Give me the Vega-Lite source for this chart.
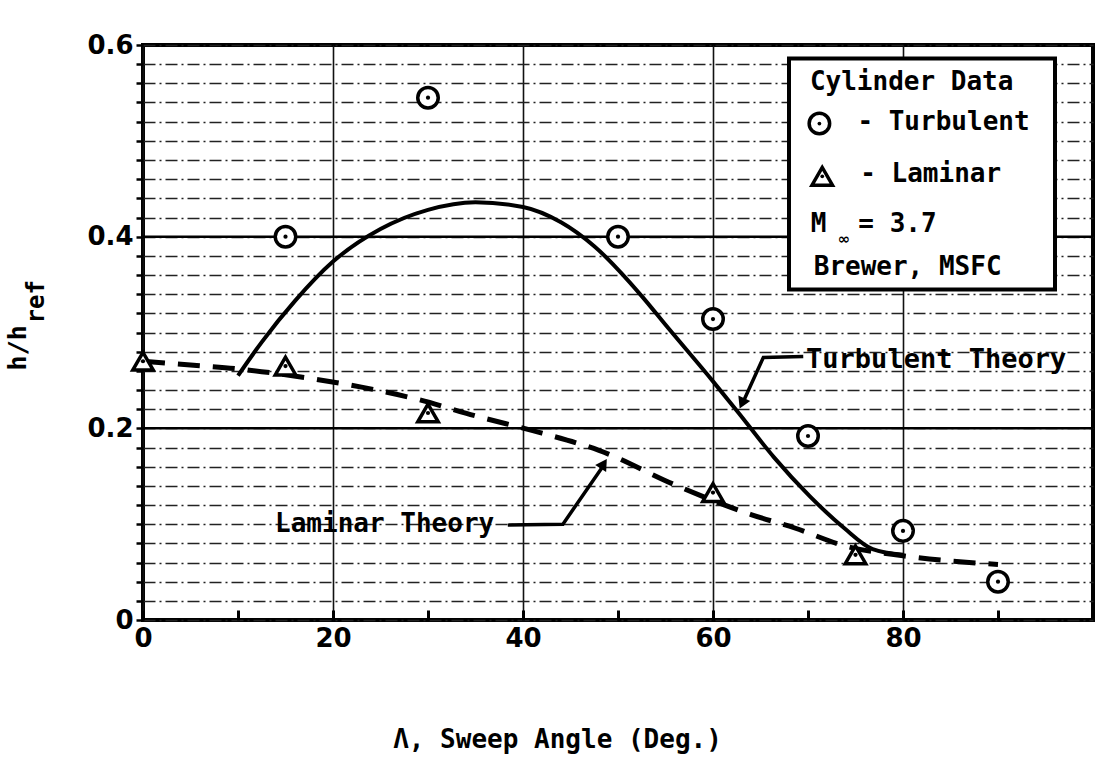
{
  "$schema": "https://vega.github.io/schema/vega-lite/v6.json",
  "width": 950,
  "height": 575,
  "autosize": {"type": "none"},
  "padding": {"left": 143, "top": 45, "right": 6, "bottom": 137},
  "background": "white",
  "config": {
    "view": {"stroke": "black", "strokeWidth": 4},
    "axis": {
      "domain": false,
      "labelFont": "DejaVu Sans",
      "labelFontWeight": "bold",
      "labelFontSize": 26,
      "labelColor": "black",
      "tickColor": "black",
      "labelOverlap": false,
      "titleColor": "black"
    }
  },
  "datasets": {
    "hgrid": [{"h": 0.2}, {"h": 0.4}],
    "box": [{"a": 68, "a2": 96, "h": 0.345, "h2": 0.586}],
    "turbTheory": [
      {"a": 10, "h": 0.255}, {"a": 12.5, "h": 0.29}, {"a": 16, "h": 0.333},
      {"a": 20, "h": 0.374}, {"a": 25, "h": 0.408}, {"a": 30, "h": 0.428},
      {"a": 35, "h": 0.436}, {"a": 40, "h": 0.431}, {"a": 44, "h": 0.415},
      {"a": 47.5, "h": 0.39}, {"a": 52.5, "h": 0.338}, {"a": 55, "h": 0.308},
      {"a": 60, "h": 0.249}, {"a": 62.7, "h": 0.216}, {"a": 66.4, "h": 0.17},
      {"a": 70.2, "h": 0.129}, {"a": 73.8, "h": 0.096}, {"a": 76.8, "h": 0.074},
      {"a": 80, "h": 0.068}
    ],
    "lamTheory": [
      {"a": 0, "h": 0.27}, {"a": 5, "h": 0.266}, {"a": 10, "h": 0.262},
      {"a": 17, "h": 0.253}, {"a": 23, "h": 0.243}, {"a": 29, "h": 0.23},
      {"a": 35, "h": 0.213}, {"a": 42, "h": 0.195}, {"a": 48, "h": 0.177},
      {"a": 56, "h": 0.141}, {"a": 64, "h": 0.11}, {"a": 68.6, "h": 0.096},
      {"a": 74, "h": 0.077}, {"a": 80, "h": 0.067}, {"a": 90, "h": 0.058}
    ],
    "points": [
      {"a": 15, "h": 0.40, "kind": "Turbulent"},
      {"a": 30, "h": 0.545, "kind": "Turbulent"},
      {"a": 50, "h": 0.40, "kind": "Turbulent"},
      {"a": 60, "h": 0.314, "kind": "Turbulent"},
      {"a": 70, "h": 0.192, "kind": "Turbulent"},
      {"a": 80, "h": 0.093, "kind": "Turbulent"},
      {"a": 90, "h": 0.04, "kind": "Turbulent"},
      {"a": 0, "h": 0.27, "kind": "Laminar"},
      {"a": 15, "h": 0.265, "kind": "Laminar"},
      {"a": 30, "h": 0.216, "kind": "Laminar"},
      {"a": 60, "h": 0.133, "kind": "Laminar"},
      {"a": 75, "h": 0.068, "kind": "Laminar"}
    ],
    "legendGlyphs": [
      {"a": 71.2, "h": 0.518, "kind": "Turbulent"},
      {"a": 71.5, "h": 0.463, "kind": "Laminar"}
    ],
    "arrows": [
      {"a": 38.4, "h": 0.099, "id": "lam", "o": 1},
      {"a": 44.2, "h": 0.1, "id": "lam", "o": 2},
      {"a": 48.6, "h": 0.163, "id": "lam", "o": 3},
      {"a": 69.5, "h": 0.275, "id": "turb", "o": 1},
      {"a": 65.3, "h": 0.274, "id": "turb", "o": 2},
      {"a": 63.1, "h": 0.226, "id": "turb", "o": 3}
    ],
    "lamHead": [{"a": 48.5, "h": 0.163}],
    "turbHead": [{"a": 63.05, "h": 0.226}],
    "annotLam": [{"a": 13.9, "h": 0.1, "t": "Laminar Theory"}],
    "annotTurb": [{"a": 69.8, "h": 0.271, "t": "Turbulent Theory"}],
    "legendText": [
      {"a": 70.2, "h": 0.561, "t": "Cylinder Data"},
      {"a": 75.2, "h": 0.52, "t": "- Turbulent"},
      {"a": 75.5, "h": 0.465, "t": "- Laminar"},
      {"a": 70.3, "h": 0.413, "t": "M"},
      {"a": 75.3, "h": 0.413, "t": "= 3.7"},
      {"a": 70.6, "h": 0.368, "t": "Brewer, MSFC"}
    ],
    "infty": [{"a": 73.8, "h": 0.398, "t": "∞"}],
    "ytitle": [{"a": -13.2, "h": 0.284, "t": "h/h"}],
    "ysub": [{"a": -11.2, "h": 0.332, "t": "ref"}]
  },
  "layer": [
    {
      "data": {"name": "hgrid"},
      "mark": {"type": "rule", "stroke": "black", "strokeWidth": 2.5},
      "encoding": {
        "y": {
          "field": "h", "type": "quantitative",
          "scale": {"domain": [0, 0.6], "nice": false, "zero": false},
          "axis": {
            "title": null,
            "values": [0, 0.02, 0.04, 0.06, 0.08, 0.1, 0.12, 0.14, 0.16, 0.18, 0.2, 0.22, 0.24, 0.26, 0.28, 0.3, 0.32, 0.34, 0.36, 0.38, 0.4, 0.42, 0.44, 0.46, 0.48, 0.5, 0.52, 0.54, 0.56, 0.58, 0.6],
            "tickCount": 60,
            "labelExpr": "datum.value == 0 ? '0' : (abs(datum.value*5 - round(datum.value*5)) < 0.001 ? format(datum.value, '.1f') : '')",
            "tickSize": 7,
            "tickWidth": 2.5,
            "labelPadding": 3,
            "grid": true,
            "gridColor": "#222222",
            "gridWidth": 1.3,
            "gridDash": [12, 4, 2, 4]
          }
        },
        "x": {"datum": 0, "type": "quantitative", "scale": {"domain": [0, 100], "nice": false, "zero": false},
          "axis": {
            "title": "Λ, Sweep Angle (Deg.)",
            "titleFont": "DejaVu Sans Mono",
            "titleFontSize": 26,
            "titleFontWeight": "bold",
            "titlePadding": 75,
            "titleX": 414,
            "values": [0, 10, 20, 30, 40, 50, 60, 70, 80, 90],
            "tickCount": 40,
            "labelExpr": "datum.value % 20 == 0 ? datum.label : ''",
            "labelFlush": false,
            "tickSize": -10,
            "tickWidth": 3,
            "labelPadding": 15,
            "grid": true,
            "gridColor": "#111111",
            "gridWidth": 1.6,
            "gridOpacity": {"condition": {"test": "datum.value % 20 == 0", "value": 1}, "value": 0}
          }
        },
        "x2": {"datum": 100}
      }
    },
    {
      "data": {"name": "box"},
      "mark": {"type": "rect", "fill": "white", "stroke": "black", "strokeWidth": 4},
      "encoding": {
        "x": {"field": "a", "type": "quantitative", "scale": {"domain": [0, 100], "nice": false, "zero": false}},
        "x2": {"field": "a2"},
        "y": {"field": "h", "type": "quantitative", "scale": {"domain": [0, 0.6], "nice": false, "zero": false}},
        "y2": {"field": "h2"}
      }
    },
    {
      "data": {"name": "turbTheory"},
      "mark": {"type": "line", "stroke": "black", "strokeWidth": 4, "interpolate": "monotone"},
      "encoding": {
        "x": {"field": "a", "type": "quantitative", "scale": {"domain": [0, 100], "nice": false, "zero": false}},
        "y": {"field": "h", "type": "quantitative", "scale": {"domain": [0, 0.6], "nice": false, "zero": false}}
      }
    },
    {
      "data": {"name": "lamTheory"},
      "mark": {"type": "line", "stroke": "black", "strokeWidth": 5, "strokeDash": [22, 13], "interpolate": "monotone"},
      "encoding": {
        "x": {"field": "a", "type": "quantitative", "scale": {"domain": [0, 100], "nice": false, "zero": false}},
        "y": {"field": "h", "type": "quantitative", "scale": {"domain": [0, 0.6], "nice": false, "zero": false}}
      }
    },
    {
      "data": {"name": "arrows"},
      "mark": {"type": "line", "stroke": "black", "strokeWidth": 3.5},
      "encoding": {
        "x": {"field": "a", "type": "quantitative", "scale": {"domain": [0, 100], "nice": false, "zero": false}},
        "y": {"field": "h", "type": "quantitative", "scale": {"domain": [0, 0.6], "nice": false, "zero": false}},
        "detail": {"field": "id"},
        "order": {"field": "o"}
      }
    },
    {
      "data": {"name": "lamHead"},
      "mark": {"type": "point", "shape": "triangle-up", "filled": true, "color": "black", "size": 170, "angle": 33, "opacity": 1},
      "encoding": {
        "x": {"field": "a", "type": "quantitative", "scale": {"domain": [0, 100], "nice": false, "zero": false}},
        "y": {"field": "h", "type": "quantitative", "scale": {"domain": [0, 0.6], "nice": false, "zero": false}}
      }
    },
    {
      "data": {"name": "turbHead"},
      "mark": {"type": "point", "shape": "triangle-up", "filled": true, "color": "black", "size": 170, "angle": 204, "opacity": 1},
      "encoding": {
        "x": {"field": "a", "type": "quantitative", "scale": {"domain": [0, 100], "nice": false, "zero": false}},
        "y": {"field": "h", "type": "quantitative", "scale": {"domain": [0, 0.6], "nice": false, "zero": false}}
      }
    },
    {
      "data": {"name": "points"},
      "mark": {"type": "point", "filled": true, "fill": "white", "stroke": "black", "strokeWidth": 3.5, "size": 420, "opacity": 1},
      "encoding": {
        "x": {"field": "a", "type": "quantitative", "scale": {"domain": [0, 100], "nice": false, "zero": false}},
        "y": {"field": "h", "type": "quantitative", "scale": {"domain": [0, 0.6], "nice": false, "zero": false}},
        "shape": {"field": "kind", "type": "nominal", "scale": {"domain": ["Turbulent", "Laminar"], "range": ["circle", "triangle-up"]}, "legend": null}
      }
    },
    {
      "data": {"name": "points"},
      "mark": {"type": "point", "filled": true, "color": "black", "size": 18, "shape": "circle", "opacity": 1},
      "encoding": {
        "x": {"field": "a", "type": "quantitative", "scale": {"domain": [0, 100], "nice": false, "zero": false}},
        "y": {"field": "h", "type": "quantitative", "scale": {"domain": [0, 0.6], "nice": false, "zero": false}}
      }
    },
    {
      "data": {"name": "legendGlyphs"},
      "mark": {"type": "point", "filled": true, "fill": "white", "stroke": "black", "strokeWidth": 3.5, "size": 420, "opacity": 1},
      "encoding": {
        "x": {"field": "a", "type": "quantitative", "scale": {"domain": [0, 100], "nice": false, "zero": false}},
        "y": {"field": "h", "type": "quantitative", "scale": {"domain": [0, 0.6], "nice": false, "zero": false}},
        "shape": {"field": "kind", "type": "nominal", "scale": {"domain": ["Turbulent", "Laminar"], "range": ["circle", "triangle-up"]}, "legend": null}
      }
    },
    {
      "data": {"name": "legendGlyphs"},
      "mark": {"type": "point", "filled": true, "color": "black", "size": 14, "shape": "circle", "opacity": 1},
      "encoding": {
        "x": {"field": "a", "type": "quantitative", "scale": {"domain": [0, 100], "nice": false, "zero": false}},
        "y": {"field": "h", "type": "quantitative", "scale": {"domain": [0, 0.6], "nice": false, "zero": false}}
      }
    },
    {
      "data": {"name": "annotLam"},
      "mark": {"type": "text", "align": "left", "baseline": "middle", "font": "DejaVu Sans Mono", "fontWeight": "bold", "fontSize": 26, "color": "black"},
      "encoding": {
        "x": {"field": "a", "type": "quantitative", "scale": {"domain": [0, 100], "nice": false, "zero": false}},
        "y": {"field": "h", "type": "quantitative", "scale": {"domain": [0, 0.6], "nice": false, "zero": false}},
        "text": {"field": "t"}
      }
    },
    {
      "data": {"name": "annotTurb"},
      "mark": {"type": "text", "align": "left", "baseline": "middle", "font": "DejaVu Sans Mono", "fontWeight": "bold", "fontSize": 27, "color": "black"},
      "encoding": {
        "x": {"field": "a", "type": "quantitative", "scale": {"domain": [0, 100], "nice": false, "zero": false}},
        "y": {"field": "h", "type": "quantitative", "scale": {"domain": [0, 0.6], "nice": false, "zero": false}},
        "text": {"field": "t"}
      }
    },
    {
      "data": {"name": "legendText"},
      "mark": {"type": "text", "align": "left", "baseline": "middle", "font": "DejaVu Sans Mono", "fontWeight": "bold", "fontSize": 26, "color": "black"},
      "encoding": {
        "x": {"field": "a", "type": "quantitative", "scale": {"domain": [0, 100], "nice": false, "zero": false}},
        "y": {"field": "h", "type": "quantitative", "scale": {"domain": [0, 0.6], "nice": false, "zero": false}},
        "text": {"field": "t"}
      }
    },
    {
      "data": {"name": "infty"},
      "mark": {"type": "text", "align": "center", "baseline": "middle", "font": "DejaVu Sans", "fontWeight": "bold", "fontSize": 15, "color": "black"},
      "encoding": {
        "x": {"field": "a", "type": "quantitative", "scale": {"domain": [0, 100], "nice": false, "zero": false}},
        "y": {"field": "h", "type": "quantitative", "scale": {"domain": [0, 0.6], "nice": false, "zero": false}},
        "text": {"field": "t"}
      }
    },
    {
      "data": {"name": "ytitle"},
      "mark": {"type": "text", "align": "center", "baseline": "middle", "angle": 270, "font": "DejaVu Sans Mono", "fontWeight": "bold", "fontSize": 25, "color": "black"},
      "encoding": {
        "x": {"field": "a", "type": "quantitative", "scale": {"domain": [0, 100], "nice": false, "zero": false}},
        "y": {"field": "h", "type": "quantitative", "scale": {"domain": [0, 0.6], "nice": false, "zero": false}},
        "text": {"field": "t"}
      }
    },
    {
      "data": {"name": "ysub"},
      "mark": {"type": "text", "align": "center", "baseline": "middle", "angle": 270, "font": "DejaVu Sans Mono", "fontWeight": "bold", "fontSize": 24, "color": "black"},
      "encoding": {
        "x": {"field": "a", "type": "quantitative", "scale": {"domain": [0, 100], "nice": false, "zero": false}},
        "y": {"field": "h", "type": "quantitative", "scale": {"domain": [0, 0.6], "nice": false, "zero": false}},
        "text": {"field": "t"}
      }
    }
  ]
}
